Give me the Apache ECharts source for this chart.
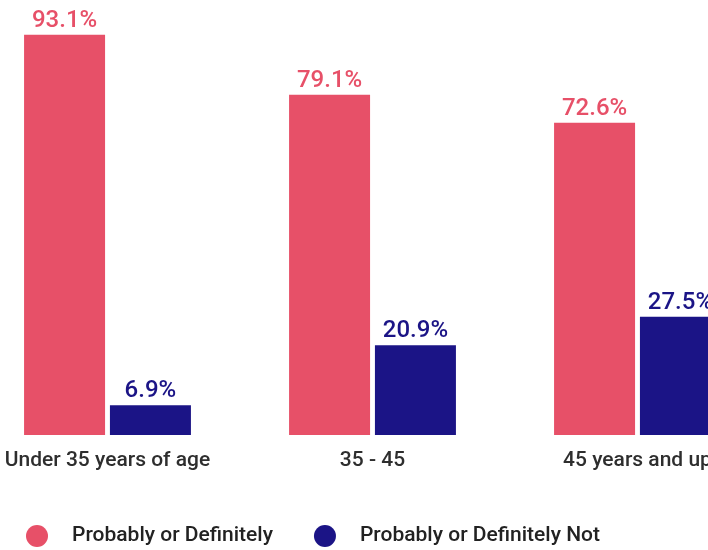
<!DOCTYPE html>
<html>
<head>
<meta charset="utf-8">
<script src="https://cdn.jsdelivr.net/npm/echarts@6/dist/echarts.min.js"></script>
<style>
  html, body { margin: 0; padding: 0; background: #ffffff; }
  #chart { width: 708px; height: 550px; }
</style>
</head>
<body>
<div id="chart"></div>
<script>
// Survey answers by age group (percent of respondents)
const categories = ['Under 35 years of age', '35 - 45', '45 years and up'];
const seriesNames = ['Probably or Definitely', 'Probably or Definitely Not'];
const definitely = [93.1, 79.1, 72.6];
const definitelyNot = [6.9, 20.9, 27.5];

const RED = '#E75068';
const NAVY = '#1B1486';

const chart = echarts.init(document.getElementById('chart'), null, { renderer: 'canvas' });

function barSeries(name, data, color) {
  return {
    name: name,
    type: 'bar',
    data: data,
    barWidth: 81,
    barGap: '6%',
    itemStyle: { color: color },
    label: {
      show: true,
      position: 'top',
      distance: 2,
      formatter: p => p.value.toFixed(1) + '%',
      color: color,
      fontFamily: 'Roboto',
      fontSize: 24,
      fontWeight: 500
    }
  };
}

chart.setOption({
  animation: false,
  backgroundColor: '#ffffff',
  // the plot runs a little past the right edge, so the last bar is cut off
  grid: { left: -25, width: 795, top: 5, bottom: 115, containLabel: false, outerBoundsMode: 'none' },
  xAxis: {
    type: 'category',
    data: categories,
    axisLine: { show: false },
    axisTick: { show: false },
    axisLabel: {
      interval: 0,
      margin: 15,
      color: '#2e2e2e',
      fontFamily: 'Roboto',
      fontSize: 21,
      fontWeight: 500
    }
  },
  yAxis: {
    type: 'value',
    min: 0,
    max: 100,
    show: false,
    splitLine: { show: false }
  },
  legend: {
    data: seriesNames,
    left: 21,
    top: 520,
    icon: 'circle',
    itemWidth: 22,
    itemHeight: 22,
    itemGap: 41,
    textStyle: {
      color: '#222222',
      fontFamily: 'Roboto',
      fontSize: 21,
      fontWeight: 500,
      padding: [0, 0, 0, 19]
    }
  },
  series: [
    barSeries(seriesNames[0], definitely, RED),
    barSeries(seriesNames[1], definitelyNot, NAVY)
  ]
});
</script>
</body>
</html>
